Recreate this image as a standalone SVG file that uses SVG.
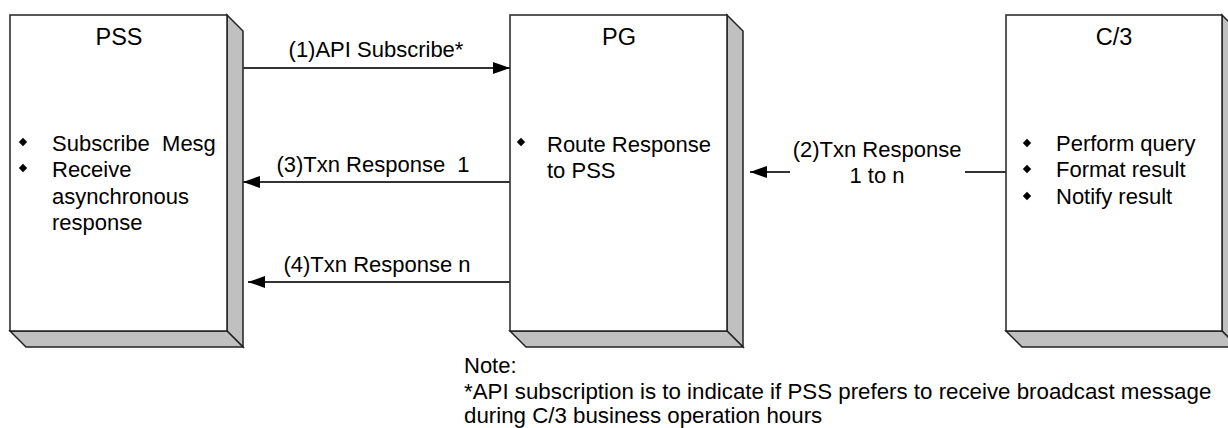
<svg xmlns="http://www.w3.org/2000/svg" width="1228" height="428" viewBox="0 0 1228 428">
<style>
text{font-family:"Liberation Sans",Arial,sans-serif;font-size:22px;fill:#000;white-space:pre}
.title{font-size:23.5px}
.front{fill:#fff;stroke:#222;stroke-width:1.5}
.side{fill:#c0c0c0;stroke:#222;stroke-width:1.5;stroke-linejoin:miter}
.conn{fill:none;stroke:#333;stroke-width:2}
.mid{text-anchor:middle}
.bul{fill:#000}
</style>
<defs>
<marker id="ah" markerWidth="17" markerHeight="12" refX="17" refY="6" orient="auto" markerUnits="userSpaceOnUse">
<path d="M0,0 L17,6 L0,12 z" fill="#000"/>
</marker>
<path id="dia" d="M0,-4.2 L4.2,0 L0,4.2 L-4.2,0 z"/>
</defs>
<g id="node-pss">
<polygon class="side" points="227,15 243,31 243,347 227,331"/>
<polygon class="side" points="10,331 227,331 243,347 26,347"/>
<rect class="front" x="10" y="15" width="217" height="316"/>
<text class="mid title" x="119" y="45">PSS</text>
<use href="#dia" class="bul" x="23" y="142"/>
<use href="#dia" class="bul" x="23" y="168"/>
<text x="52" y="151">Subscribe  Mesg</text>
<text x="52" y="177">Receive</text>
<text x="52" y="204">asynchronous</text>
<text x="52" y="230">response</text>
</g>
<g id="node-pg">
<polygon class="side" points="727,15 743,31 743,347 727,331"/>
<polygon class="side" points="510,331 727,331 743,347 526,347"/>
<rect class="front" x="510" y="15" width="217" height="316"/>
<text class="mid title" x="619" y="45">PG</text>
<use href="#dia" class="bul" x="521" y="142"/>
<text x="547" y="152">Route Response</text>
<text x="547" y="178">to PSS</text>
</g>
<g id="node-c3">
<polygon class="side" points="1222,15 1238,31 1238,347 1222,331"/>
<polygon class="side" points="1006,331 1222,331 1238,347 1022,347"/>
<rect class="front" x="1006" y="15" width="216" height="316"/>
<text class="mid title" x="1114" y="45">C/3</text>
<use href="#dia" class="bul" x="1027" y="143"/>
<use href="#dia" class="bul" x="1027" y="169"/>
<use href="#dia" class="bul" x="1027" y="196"/>
<text x="1056" y="151">Perform query</text>
<text x="1056" y="177">Format result</text>
<text x="1056" y="204">Notify result</text>
</g>
<g id="connectors">
<line class="conn" x1="243" y1="68" x2="510" y2="68" marker-end="url(#ah)"/>
<text class="mid" x="376" y="57">(1)API Subscribe*</text>
<path class="conn" d="M1006,172 H965 M790,172 H750" marker-end="url(#ah)"/>
<text class="mid" x="877" y="157">(2)Txn Response</text>
<text class="mid" x="877" y="183">1 to n</text>
<line class="conn" x1="510" y1="182" x2="243" y2="182" marker-end="url(#ah)"/>
<text class="mid" x="373" y="172">(3)Txn Response  1</text>
<line class="conn" x1="510" y1="282" x2="248" y2="282" marker-end="url(#ah)"/>
<text class="mid" x="377" y="272">(4)Txn Response n</text>
</g>
<g id="note">
<text x="464" y="373">Note:</text>
<text x="464" y="399" style="font-size:22.3px">*API subscription is to indicate if PSS prefers to receive broadcast message</text>
<text x="464" y="423" style="font-size:22.3px">during C/3 business operation hours</text>
</g>
</svg>
